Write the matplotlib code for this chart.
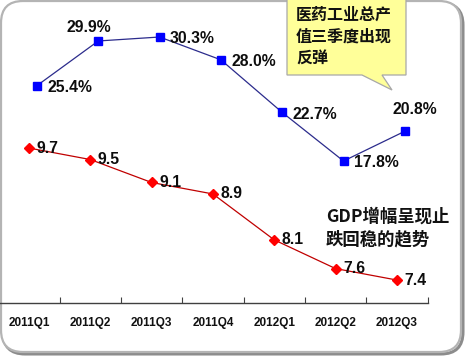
import matplotlib.pyplot as plt
import numpy as np
from matplotlib.patches import FancyBboxPatch, Polygon

# Данные
quarters = ['2011Q1', '2011Q2', '2011Q3', '2011Q4', '2012Q1', '2012Q2', '2012Q3']
pharma_growth = [25.4, 29.9, 30.3, 28.0, 22.7, 17.8, 20.8]
gdp_growth = [9.7, 9.5, 9.1, 8.9, 8.1, 7.6, 7.4]
callout_lines = ['医药工业总产', '值三季度出现', '反弹']
gdp_note_lines = ['GDP增幅呈现止', '跌回稳的趋势']

W, H = 465, 360
fig = plt.figure(figsize=(W / 100, H / 100), dpi=100)
fig.patch.set_facecolor('white')

# фон: скруглённая рамка с тенью
bg = fig.add_axes([0, 0, 1, 1], zorder=0)
bg.set_xlim(0, W)
bg.set_ylim(H, 0)
bg.axis('off')
r = 22
shadow = FancyBboxPatch((1 + r + 2, 1 + r + 2), 460 - 2 * r, 351 - 2 * r,
                        boxstyle=f'round,pad={r}', fc='none', ec='#8c8c8c', lw=2.2)
frame = FancyBboxPatch((1 + r, 1 + r), 460 - 2 * r, 351 - 2 * r,
                       boxstyle=f'round,pad={r}', fc='white', ec='#b4b4b4', lw=1.6)
bg.add_patch(shadow)
bg.add_patch(frame)

# основные оси
px_bottom = 303
ax = fig.add_axes([0, (H - px_bottom) / H, 427.5 / W, px_bottom / H], zorder=2)
ax.patch.set_alpha(0)
ax2 = ax.twinx()
ax2.patch.set_alpha(0)

x = np.arange(len(quarters))
ax.set_xlim(-0.473, 6.5)
ax.set_ylim(7.0, 12.28)
ax2.set_ylim(3.49, 34.03)

ax.plot(x, gdp_growth, color='#c00000', lw=0.9, marker='D', ms=5.0,
        mfc='#ff0000', mec='#ff0000', zorder=3)
ax2.plot(x + 0.13, pharma_growth, color='#2b2b8c', lw=0.9, marker='s', ms=6.3,
         mfc='#0000ff', mec='#0000ff', zorder=3)

lab_font = dict(family='Liberation Sans', fontsize=11.3, fontweight='bold', color='#0d0d0d')
for xi, v in zip(x, gdp_growth):
    ax.annotate(f'{v:.1f}', (xi, v), xytext=(5.5, 0), textcoords='offset points',
                ha='left', va='center', **lab_font)

above = {1: (-6.5, 9.5), 6: (7, 16)}
for i, (xi, v) in enumerate(zip(x + 0.13, pharma_growth)):
    if i in above:
        ax2.annotate(f'{v:.1f}%', (xi, v), xytext=above[i], textcoords='offset points',
                     ha='center', va='center', **lab_font)
    else:
        ax2.annotate(f'{v:.1f}%', (xi, v), xytext=(7.5, -1.2), textcoords='offset points',
                     ha='left', va='center', **lab_font)

for a in (ax, ax2):
    for s in ('top', 'left', 'right'):
        a.spines[s].set_visible(False)
ax2.spines['bottom'].set_visible(False)
ax2.set_yticks([])
ax.set_yticks([])
ax.spines['bottom'].set_color('#404040')
ax.spines['bottom'].set_linewidth(1.0)
ax.set_xticks(x)
ax.set_xticklabels(quarters, family='Liberation Sans', fontsize=8.5,
                   fontweight='bold', color='#111111')
ax.tick_params(axis='x', which='major', length=0, pad=10)
ax.set_xticks(np.arange(0.5, 7, 1.0), minor=True)
ax.tick_params(axis='x', which='minor', direction='in', length=4,
               color='#404040', width=0.8)

# выноска и подписи поверх
top = fig.add_axes([0, 0, 1, 1], zorder=5)
top.set_xlim(0, W)
top.set_ylim(H, 0)
top.axis('off')
callout = Polygon([(287, -5), (406, -5), (406, 75), (382, 75), (392, 90),
                   (362, 75), (287, 75)], closed=True,
                  fc='#ffff99', ec='#a8a8a8', lw=0.9)
top.add_patch(callout)
for i, line in enumerate(callout_lines):
    top.text(296, 15 + i * 22, line, family=['Noto Sans CJK SC', 'DejaVu Sans'],
             fontsize=11.5, fontweight='bold', ha='left', va='center', color='#111111')
for i, line in enumerate(gdp_note_lines):
    top.text(326, 217 + i * 22, line, family=['Noto Sans CJK SC', 'DejaVu Sans'],
             fontsize=12.5, fontweight='bold', ha='left', va='center', color='#111111')

fig.savefig('out.png', dpi=100)
